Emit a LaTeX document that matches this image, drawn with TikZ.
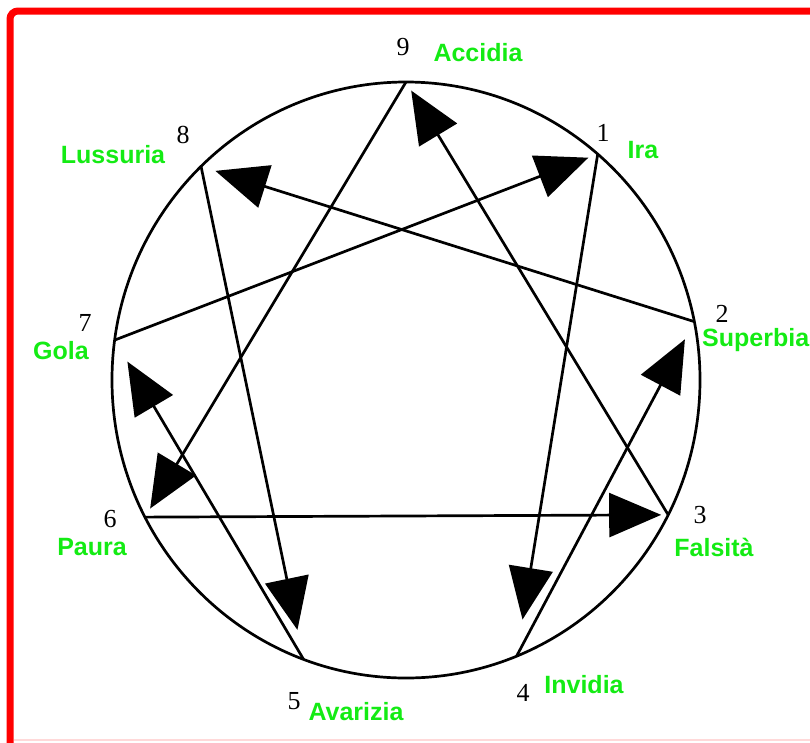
\documentclass[tikz,border=0pt]{standalone}
\usepackage{fontspec}
\setmainfont{Liberation Serif}
\newfontfamily\vicefont{Liberation Sans}
\usetikzlibrary{arrows.meta}
\definecolor{vicegreen}{RGB}{20,235,20}
\begin{document}
\begin{tikzpicture}[x=1pt, y=-1pt,
      >={Triangle[length=52pt, width=44pt]},
      conn/.style={->, line width=2.7pt},
      num/.style={font=\fontsize{26}{26}\selectfont, inner sep=0pt},
      vice/.style={font=\vicefont\bfseries\fontsize{25}{25}\selectfont, text=vicegreen, inner sep=0pt}]

    \useasboundingbox (0,0) rectangle (810,742);
    \draw[red, line width=7pt, rounded corners=8pt] (10,11) rectangle (880,800);
    \draw[red!15, line width=1.2pt] (14,740) -- (810,740);

    % points on the circle
    \foreach \n/\a in {9/90, 1/49.3, 2/11.3, 3/-26.9, 4/-67.9, 5/-110.4, 6/-152.6, 7/172.3, 8/134.2}
      \coordinate (p\n) at ({406+294*cos(\a)}, {380-298*sin(\a)});
    \draw[line width=2.7pt] (406,380) ellipse [x radius=294, y radius=298];

    \draw[conn, shorten >=10pt] (p3) -- (p9);
    \draw[conn, shorten >=10pt] (p9) -- (p6);
    \draw[conn, shorten >=7pt]  (p6) -- (p3);
    \draw[conn, shorten >=37pt] (p1) -- (p4);
    \draw[conn, shorten >=20pt] (p4) -- (p2);
    \draw[conn, shorten >=15pt] (p2) -- (p8);
    \draw[conn, shorten >=30pt] (p8) -- (p5);
    \draw[conn, shorten >=25pt] (p5) -- (p7);
    \draw[conn, shorten >=10pt] (p7) -- (p1);

    \node[num] (n9) at (403,47)  {9};
    \node[num] (n1) at (603,133) {1};
    \node[num] (n2) at (722,314) {2};
    \node[num] (n3) at (700,515) {3};
    \node[num] (n4) at (523,693) {4};
    \node[num] (n5) at (294,701) {5};
    \node[num] (n6) at (110,519) {6};
    \node[num] (n7) at (85,323)  {7};
    \node[num] (n8) at (183,135) {8};

    \node[vice] (v9) at (478,53)  {Accidia};
    \node[vice] (v1) at (643,150) {Ira};
    \node[vice, anchor=west] (v2) at (702,340) {Superbia};
    \node[vice] (v3) at (714,547) {Falsità};
    \node[vice] (v4) at (584,685) {Invidia};
    \node[vice] (v5) at (356,712) {Avarizia};
    \node[vice] (v6) at (92,547)  {Paura};
    \node[vice] (v7) at (61,351)  {Gola};
    \node[vice] (v8) at (113,155) {Lussuria};
  \end{tikzpicture}
\end{document}
